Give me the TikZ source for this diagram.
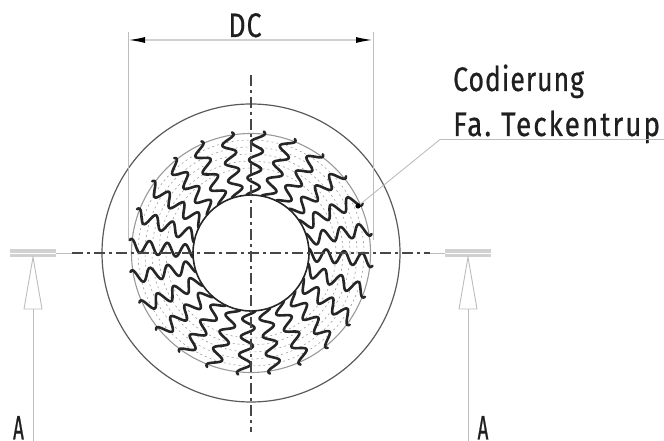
\documentclass[tikz,border=0pt]{standalone}
\usepackage{fontspec}
\setmainfont{Fira Sans}[LetterSpace=3,FakeStretch=0.78,FakeBold=0.6]
\newfontfamily\narrowfont{Fira Sans}[FakeStretch=0.55,FakeBold=0.6]
\newfontfamily\widefont{Fira Sans}[LetterSpace=6,FakeStretch=0.82,FakeBold=0.6]
\usetikzlibrary{arrows.meta}
\definecolor{thinline}{gray}{0.74}
\definecolor{ringline}{gray}{0.6}
\definecolor{dotline}{gray}{0.62}
\definecolor{darkline}{gray}{0.28}
\definecolor{waveline}{gray}{0.15}
\tikzset{
  thin line/.style={draw=thinline,line width=0.9pt},
  dim line/.style={draw=black!18,line width=1.6pt},
  axis line/.style={draw=darkline,line width=1.5pt,dash pattern=on 11pt off 4pt on 3pt off 4pt},
  circle line/.style={draw=darkline!90,line width=1.2pt},
  ring line/.style={draw=ringline,line width=1.1pt},
  dot ring/.style={draw=dotline,line width=0.6pt,dash pattern=on 2pt off 3pt},
  wave line/.style={draw=waveline,line width=2.6pt,line join=round,line cap=round},
  section bar/.style={draw=none,fill=thinline!70,minimum width=46pt,minimum height=8pt,inner sep=0pt},
  open head/.style={draw=thinline,fill=white,line width=0.9pt,line join=miter},
  label text/.style={inner sep=0pt,text=black!88,font=\fontsize{34}{36}\selectfont},
  wide text/.style={inner sep=0pt,text=black!88,font=\widefont\fontsize{34}{36}\selectfont},
  name text/.style={inner sep=0pt,text=black!88,font=\narrowfont\fontsize{34}{36}\selectfont}
}
\newcommand{\wavepath}[1]{%
  \draw[wave line] plot[smooth,domain=58:122,samples=55,variable=\r]
   ({251+\r*cos(#1+2*(122-\r)/64)-(6.5*sin(20*(\r-58)+110))*sin(#1+2*(122-\r)/64)},
    {188+\r*sin(#1+2*(122-\r)/64)+(6.5*sin(20*(\r-58)+110))*cos(#1+2*(122-\r)/64)});}
\begin{document}
\begin{tikzpicture}[x=1pt,y=1pt]
\useasboundingbox (0,0) rectangle (664,441);
\coordinate (c) at (251,188);
% rings
\foreach \rr in {85,92,99,106,113}{\draw[dot ring] (c) circle[radius=\rr];}
\draw[ring line] (c) circle[radius=119.5];
\draw[circle line] (c) circle[radius=149];
\draw[draw=waveline,line width=1.6pt] (c) circle[radius=58];
% waves: 24 identical copies, 15 degrees apart
\foreach \k in {0,...,23}{
  \pgfmathsetmacro{\ang}{11.3+15*\k}
  \wavepath{\ang}
}
% axes
\coordinate (axL) at (72,188);
\coordinate (axR) at (430,188);
\coordinate (axT) at (251,366);
\coordinate (axB) at (251,9);
\draw[axis line] (axL) -- (axR);
\draw[axis line] (axT) -- (axB);
% section marks
\node[section bar] (barL) at (33,188) {};
\node[section bar] (barR) at (468,188) {};
\draw[white,line width=0.7pt] (barL.west) -- (barL.east);
\draw[white,line width=0.7pt] (barR.west) -- (barR.east);
\draw[thin line] (barL.east) -- (axL);
\draw[thin line] (axR) -- (barR.west);
\coordinate (arL) at (33,132);
\coordinate (arR) at (468,132);
\draw[thin line] (33,0) -- (arL);
\draw[thin line] (468,0) -- (arR);
\draw[open head] (24,132) -- (barL.south) -- (42,132) -- cycle;
\draw[open head] (459,132) -- (barR.south) -- (477,132) -- cycle;
\node[name text,anchor=base] (lA) at (18.5,1.5) {A};
\node[name text,anchor=base] (rA) at (483,1.5) {A};
% dimension
\coordinate (dl) at (128,401);
\coordinate (dr) at (373,401);
\draw[thin line] (128,409) -- (128,201);
\draw[thin line] (373,409) -- (373,201);
\draw[dim line,{Latex[length=17pt,width=6pt,black]}-{Latex[length=17pt,width=6pt,black]}] (dl) -- (dr);
\node[label text,anchor=base] (dc) at (245,404) {DC};
% labels
\node[label text,anchor=base west] (cod) at (453,350) {Codierung};
\node[wide text,anchor=base west] (fa) at (453,305) {Fa.\hspace{10pt}Teckentrup};
\coordinate (ld) at (440,301.5);
\coordinate (le) at (664,301.5);
\coordinate (dot) at (358,235);
\draw[thin line] (le) -- (ld) -- (dot);
\fill[black] (dot) circle[radius=2.6];
\end{tikzpicture}
\end{document}
